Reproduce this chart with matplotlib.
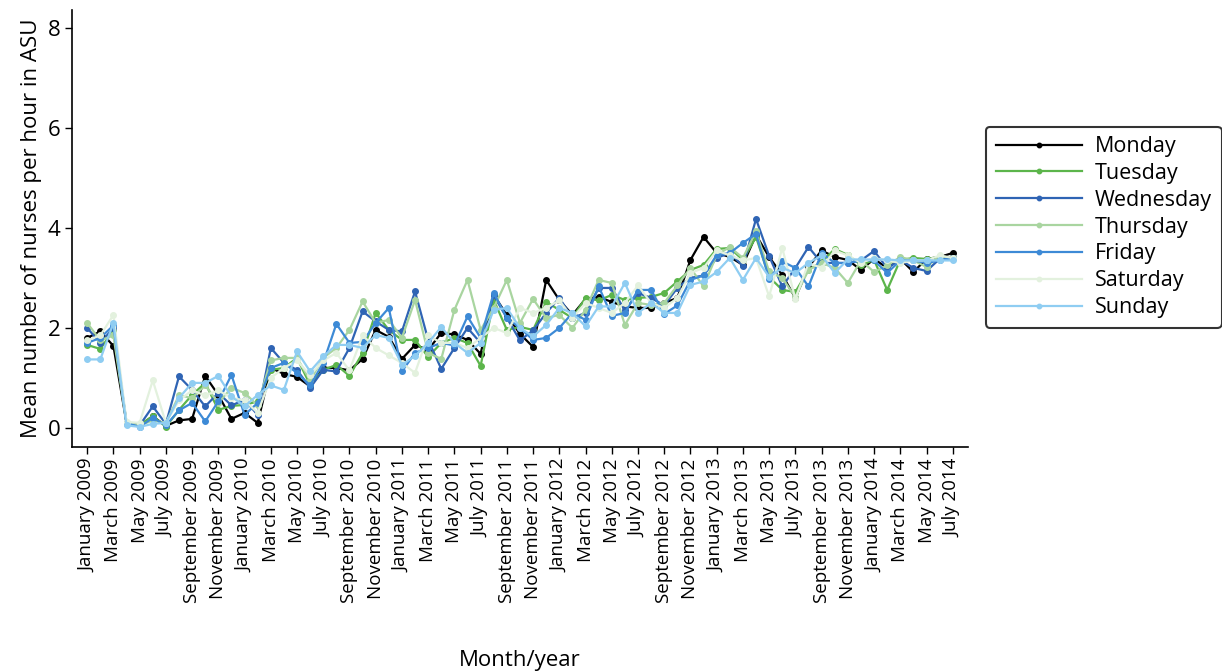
import numpy as np
import pandas as pd
import matplotlib
matplotlib.use("Agg")
import matplotlib.pyplot as plt

# months Jan 2009 .. Jul 2014
months = pd.date_range("2009-01-01", "2014-07-01", freq="MS")
month_labels = [m.strftime("%B %Y") for m in months]

monday = [1.8, 1.93, 1.64, 0.1, 0.05, 0.23, 0.04, 0.15, 0.18, 1.04, 0.66, 0.18, 0.3, 0.1,
          1.2, 1.08, 1.02, 0.83, 1.2, 1.2, 1.15, 1.38, 1.96, 1.82, 1.38, 1.66, 1.56, 1.9,
          1.87, 1.76, 1.48, 2.66, 2.26, 1.88, 1.62, 2.96, 2.56, 2.26, 2.58, 2.62, 2.52, 2.43,
          2.4, 2.4, 2.5, 2.6, 3.36, 3.82, 3.5, 3.42, 3.26, 3.86, 3.42, 3.06, 2.6, 3.22,
          3.55, 3.42, 3.36, 3.16, 3.38, 3.2, 3.38, 3.12, 3.38, 3.42, 3.5]
tuesday = [1.66, 1.58, 1.95, 0.1, 0.05, 0.24, 0.02, 0.36, 0.66, 0.9, 0.36, 0.44, 0.46, 0.53,
           1.16, 1.2, 1.4, 0.86, 1.16, 1.26, 1.04, 1.5, 2.3, 1.96, 1.76, 1.76, 1.42, 1.7,
           1.8, 1.7, 1.24, 2.56, 1.96, 2.02, 1.96, 2.52, 2.36, 2.2, 2.6, 2.55, 2.66, 2.56,
           2.6, 2.62, 2.7, 2.93, 3.16, 3.26, 3.58, 3.6, 3.36, 3.82, 3.02, 2.76, 2.72, 3.16,
           3.32, 3.58, 3.46, 3.26, 3.36, 2.76, 3.36, 3.4, 3.38, 3.42, 3.4]
wednesday = [2.0, 1.7, 2.0, 0.08, 0.05, 0.43, 0.08, 1.03, 0.76, 0.43, 0.7, 0.45, 0.56, 0.26,
             1.6, 1.3, 1.16, 0.8, 1.16, 1.13, 1.6, 2.33, 2.13, 1.96, 1.93, 2.73, 1.76, 1.18,
             1.6, 2.0, 1.7, 2.65, 2.2, 1.75, 1.95, 2.3, 2.6, 2.2, 2.3, 2.8, 2.8, 2.35,
             2.7, 2.6, 2.45, 2.8, 3.0, 3.05, 3.4, 3.5, 3.24, 4.18, 3.44, 2.83, 3.2, 3.62,
             3.3, 3.3, 3.3, 3.35, 3.54, 3.2, 3.36, 3.2, 3.14, 3.38, 3.4]
thursday = [2.1, 1.75, 1.85, 0.1, 0.05, 0.15, 0.1, 0.65, 0.6, 0.85, 0.5, 0.8, 0.7, 0.45,
            1.35, 1.4, 1.4, 0.95, 1.4, 1.6, 1.96, 2.53, 2.1, 2.16, 1.8, 2.56, 1.5, 1.38,
            2.36, 2.96, 1.96, 2.4, 2.96, 2.1, 2.58, 2.2, 2.26, 2.0, 2.36, 2.96, 2.9, 2.06,
            2.5, 2.46, 2.5, 2.85, 3.2, 2.83, 3.46, 3.62, 3.4, 3.93, 3.13, 3.0, 2.62, 3.16,
            3.3, 3.2, 2.9, 3.35, 3.12, 3.25, 3.42, 3.35, 3.22, 3.44, 3.4]
friday = [1.7, 1.8, 2.05, 0.1, 0.02, 0.2, 0.05, 0.35, 0.5, 0.13, 0.53, 1.06, 0.26, 0.5,
          1.2, 1.3, 1.1, 0.85, 1.3, 2.08, 1.7, 1.72, 2.1, 2.4, 1.13, 1.5, 1.6, 1.7,
          1.65, 2.23, 1.8, 2.7, 2.2, 2.0, 1.76, 1.8, 2.0, 2.3, 2.16, 2.83, 2.24, 2.3,
          2.76, 2.76, 2.28, 2.45, 2.96, 3.05, 3.46, 3.5, 3.7, 3.88, 2.98, 3.33, 3.2, 2.83,
          3.5, 3.3, 3.3, 3.35, 3.35, 3.1, 3.35, 3.35, 3.3, 3.35, 3.4]
saturday = [1.75, 1.85, 2.26, 0.12, 0.1, 0.95, 0.1, 0.55, 0.75, 0.65, 0.75, 0.6, 0.55, 0.3,
            1.0, 1.2, 1.35, 1.05, 1.35, 1.5, 1.15, 1.85, 1.6, 1.45, 1.3, 1.1, 1.85, 1.7,
            1.7, 1.6, 1.8, 2.0, 1.9, 2.4, 2.3, 2.4, 2.55, 2.2, 2.5, 2.4, 2.3, 2.5,
            2.85, 2.5, 2.4, 2.6, 3.1, 3.2, 3.55, 3.45, 3.35, 3.4, 2.63, 3.6, 2.58, 3.3,
            3.2, 3.55, 3.45, 3.3, 3.4, 3.35, 3.3, 3.35, 3.35, 3.45, 3.4]
sunday = [1.37, 1.37, 2.1, 0.05, 0.02, 0.08, 0.1, 0.6, 0.9, 0.9, 1.04, 0.63, 0.43, 0.66,
          0.85, 0.76, 1.53, 1.13, 1.43, 1.66, 1.66, 1.6, 1.86, 1.8, 1.26, 1.44, 1.7, 2.02,
          1.7, 1.5, 1.7, 2.36, 2.4, 2.0, 1.83, 2.06, 2.4, 2.3, 2.03, 2.43, 2.43, 2.9,
          2.3, 2.5, 2.3, 2.3, 2.86, 2.93, 3.12, 3.4, 2.96, 3.4, 3.02, 3.2, 3.1, 3.3,
          3.45, 3.1, 3.37, 3.37, 3.37, 3.37, 3.35, 3.35, 3.35, 3.35, 3.35]

days = ["Monday", "Tuesday", "Wednesday", "Thursday", "Friday", "Saturday", "Sunday"]
series = [monday, tuesday, wednesday, thursday, friday, saturday, sunday]
colors = ["#000000", "#5cb54b", "#2f64b4", "#a9d5a0", "#3d8ad6", "#e3f1de", "#8fcdf2"]

plt.rcParams["font.family"] = ["Open Sans", "DejaVu Sans"]

fig = plt.figure(figsize=(12.22, 6.72), dpi=100)
ax = fig.add_axes([0.059, 0.335, 0.733, 0.65])

x = np.arange(len(months))
for name, vals, c in zip(days, series, colors):
    ax.plot(x, vals, color=c, lw=1.6, marker="o", ms=4, label=name)

ax.set_xlim(-1.15, len(months) - 1 + 1.15)
ax.set_ylim(-0.38, 8.36)
ax.set_yticks([0, 2, 4, 6, 8])
ax.set_xticks(x[::2])
ax.set_xticklabels(month_labels[::2], rotation=90, fontsize=13.5)
ax.tick_params(axis="y", labelsize=16)
ax.tick_params(direction="out", length=5, width=1)
for s in ["top", "right"]:
    ax.spines[s].set_visible(False)
for s in ["left", "bottom"]:
    ax.spines[s].set_linewidth(1.2)

ax.set_ylabel("Mean number of nurses per hour in ASU", fontsize=16)
ax.set_xlabel("Month/year", fontsize=16, labelpad=34)

leg = ax.legend(loc="center left", bbox_to_anchor=(0.807, 0.662), bbox_transform=fig.transFigure,
                borderaxespad=0, fontsize=15.5, handlelength=4.0, numpoints=1, markerscale=0.8,
                frameon=True, fancybox=True, edgecolor="black", labelspacing=0.27,
                borderpad=0.45, handletextpad=0.6)
leg.get_frame().set_linewidth(1.5)

fig.savefig("out.png", dpi=100)
